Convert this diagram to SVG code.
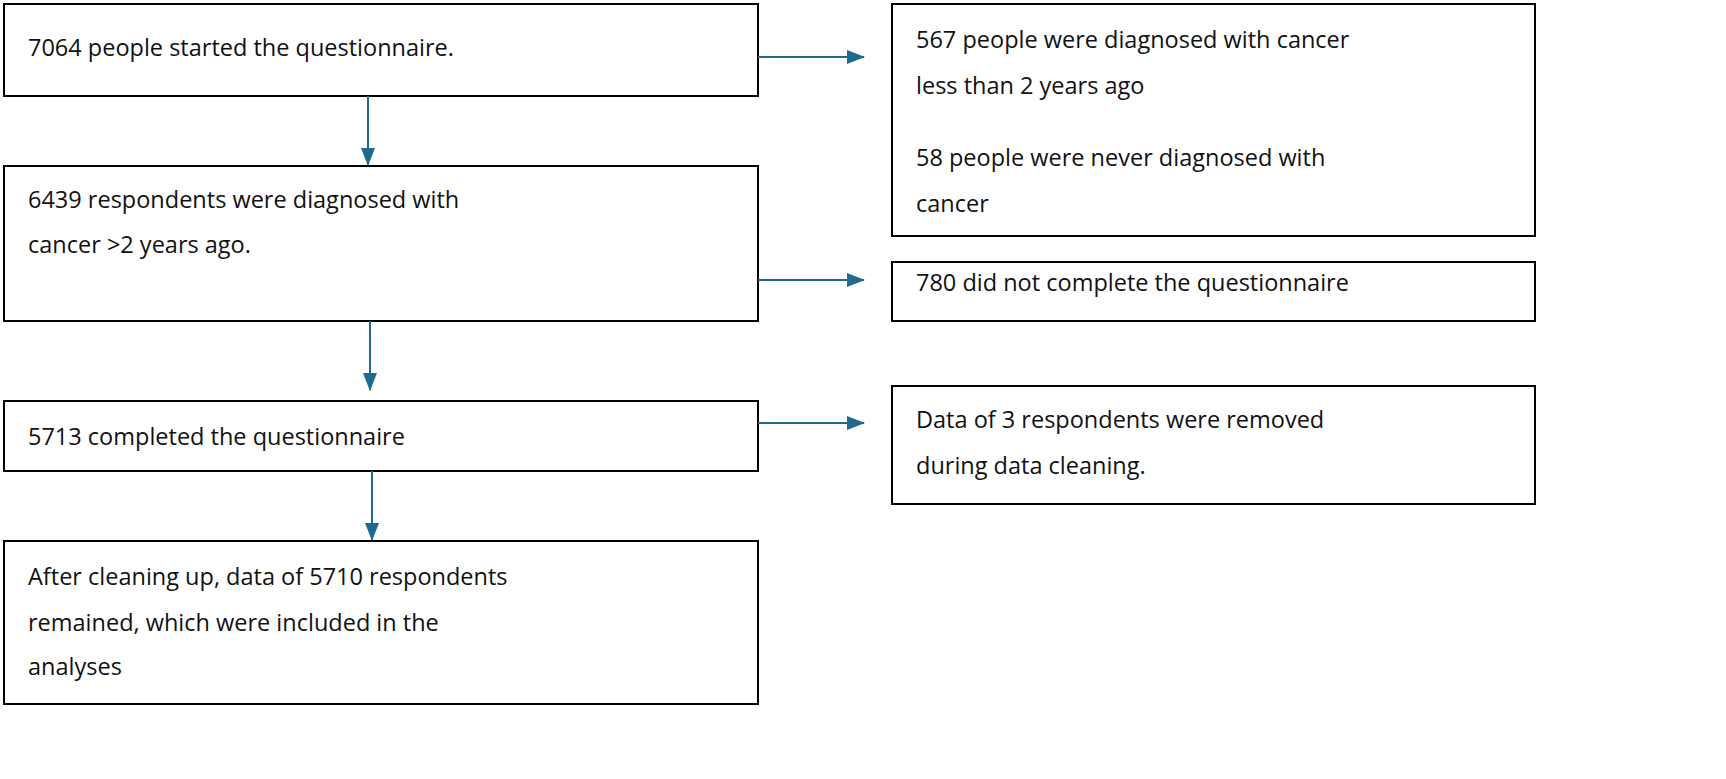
<svg xmlns="http://www.w3.org/2000/svg" width="1726" height="779" viewBox="0 0 1726 779">
<style>
.b{fill:#fff;stroke:#000;stroke-width:2}
text{font-family:"Open Sans","Noto Sans",sans-serif;font-size:23.5px;fill:#111}
.c{stroke:#1f6a8e;stroke-width:2;fill:none}
</style>
<defs><marker id="a" markerWidth="18" markerHeight="18" refX="17" refY="9" orient="auto" markerUnits="userSpaceOnUse" viewBox="0 0 18 18"><path d="M0,2 L18,9 L0,16 z" fill="#1f6a8e"/></marker></defs>
<rect width="1726" height="779" fill="#fff"/>
<g id="n1"><rect class="b" x="4" y="4" width="754" height="92"/><text x="28" y="56">7064 people started the questionnaire.</text></g>
<g id="n2"><rect class="b" x="4" y="166" width="754" height="155"/><text x="28" y="208">6439 respondents were diagnosed with</text><text x="28" y="253">cancer &gt;2 years ago.</text></g>
<g id="n3"><rect class="b" x="4" y="401" width="754" height="70"/><text x="28" y="445">5713 completed the questionnaire</text></g>
<g id="n4"><rect class="b" x="4" y="541" width="754" height="163"/><text x="28" y="585">After cleaning up, data of 5710 respondents</text><text x="28" y="631">remained, which were included in the</text><text x="28" y="675">analyses</text></g>
<g id="r1"><rect class="b" x="892" y="4" width="643" height="232"/><text x="916" y="48">567 people were diagnosed with cancer</text><text x="916" y="94">less than 2 years ago</text><text x="916" y="166">58 people were never diagnosed with</text><text x="916" y="212">cancer</text></g>
<g id="r2"><rect class="b" x="892" y="262" width="643" height="59"/><text x="916" y="291">780 did not complete the questionnaire</text></g>
<g id="r3"><rect class="b" x="892" y="386" width="643" height="118"/><text x="916" y="428">Data of 3 respondents were removed</text><text x="916" y="474">during data cleaning.</text></g>
<g id="connectors">
<line class="c" x1="368" y1="96" x2="368" y2="165" marker-end="url(#a)"/>
<line class="c" x1="370" y1="321" x2="370" y2="390" marker-end="url(#a)"/>
<line class="c" x1="372" y1="471" x2="372" y2="540" marker-end="url(#a)"/>
<line class="c" x1="758" y1="57" x2="864" y2="57" marker-end="url(#a)"/>
<line class="c" x1="758" y1="280" x2="864" y2="280" marker-end="url(#a)"/>
<line class="c" x1="758" y1="423" x2="864" y2="423" marker-end="url(#a)"/>
</g>
</svg>
